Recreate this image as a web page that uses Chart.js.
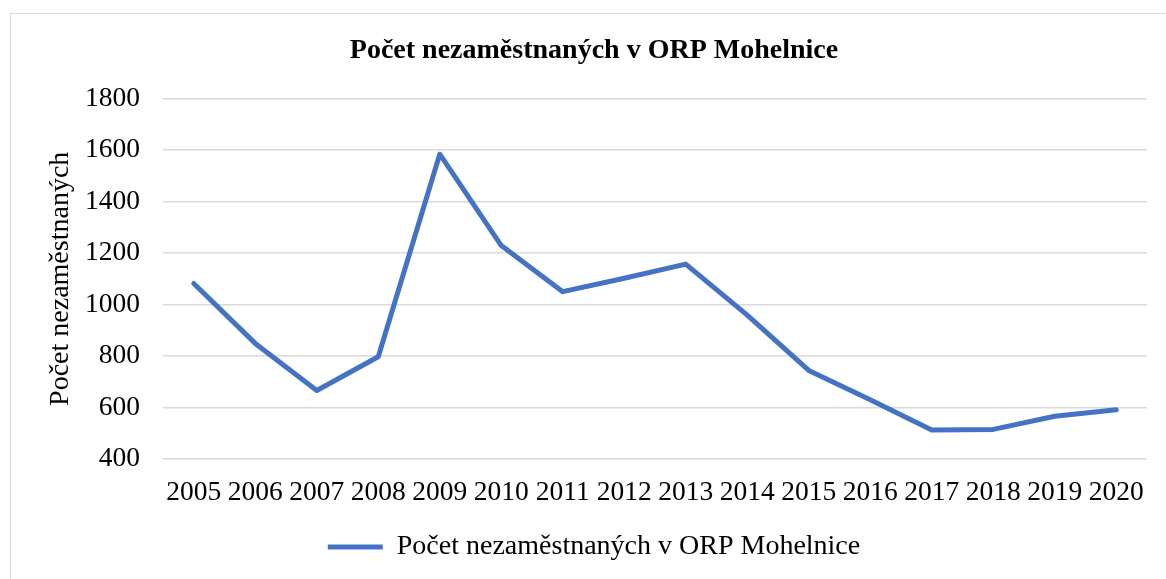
<!DOCTYPE html>
<html>
<head>
<meta charset="utf-8">
<script src="https://cdn.jsdelivr.net/npm/chart.js@4.4.1/dist/chart.umd.min.js"></script>
<style>
    body { margin: 0; background: #fff; }
    #frame { position: absolute; left: 10px; top: 13px; width: 1170px; height: 600px; border: 1.5px solid #d9d9d9; }
    #wrap { position: absolute; left: 0; top: 0; width: 1166px; height: 579px; }
</style>
</head>
<body>
<div id="frame"></div>
<div id="wrap"><canvas id="unemploymentChart"></canvas></div>
<script>
const years = ['2005', '2006', '2007', '2008', '2009', '2010', '2011', '2012',
    '2013', '2014', '2015', '2016', '2017', '2018', '2019', '2020'];
const unemployed = [1082, 849, 666, 797, 1584, 1229, 1050, 1102,
    1157, 959, 744, 630, 513, 515, 566, 591];
const seriesName = 'Počet nezaměstnaných v ORP Mohelnice';

const serif = 'Liberation Serif, Times New Roman, serif';

const ctx = document.getElementById('unemploymentChart').getContext('2d');

const myChart = new Chart(ctx, {
    type: 'line',
    data: {
        labels: years,
        datasets: [{
            label: seriesName,
            data: unemployed,
            borderColor: '#4472C4',
            backgroundColor: '#4472C4',
            borderWidth: 5,
            borderJoinStyle: 'round',
            borderCapStyle: 'round',
            pointRadius: 0,
            tension: 0
        }]
    },
    options: {
        responsive: true,
        maintainAspectRatio: false,
        animation: false,
        layout: { padding: { left: 41, right: 19, top: 14, bottom: 8 } },
        plugins: {
            title: {
                display: true,
                text: 'Počet nezaměstnaných v ORP Mohelnice',
                color: '#000',
                font: { family: serif, size: 28, weight: 'bold' },
                padding: { top: 20, bottom: 31 }
            },
            legend: {
                position: 'bottom',
                labels: {
                    color: '#000',
                    font: { family: serif, size: 28 },
                    usePointStyle: true,
                    pointStyle: 'line',
                    pointStyleWidth: 55,
                    padding: 10
                }
            },
            tooltip: { enabled: false }
        },
        scales: {
            x: {
                offset: true,
                afterFit: (scale) => { scale.height -= 3; },
                grid: { display: false, drawTicks: false },
                border: { display: false },
                ticks: { color: '#000', font: { family: serif, size: 27.5 }, padding: 17, maxRotation: 0, autoSkip: false }
            },
            y: {
                min: 400,
                max: 1800,
                afterFit: (scale) => { scale.width = 122; },
                grid: { color: '#d9d9d9', lineWidth: 1.5, drawTicks: false },
                border: { display: false },
                ticks: {
                    color: '#000',
                    font: { family: serif, size: 27.5 },
                    stepSize: 200,
                    padding: 23,
                    callback: (value) => String(value)
                },
                title: {
                    display: true,
                    text: 'Počet nezaměstnaných',
                    color: '#000',
                    font: { family: serif, size: 28 },
                    padding: { top: 3, bottom: 0 }
                }
            }
        }
    }
});
</script>
</body>
</html>
